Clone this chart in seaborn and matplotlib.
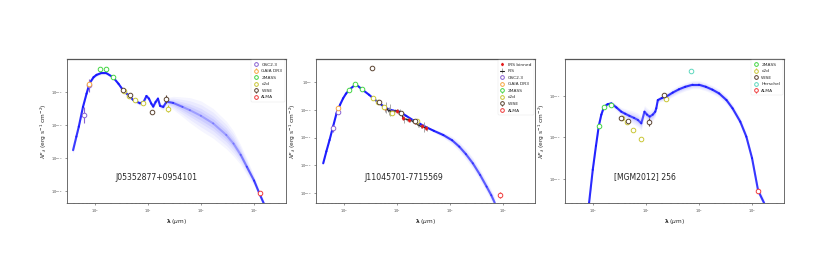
import numpy as np
import seaborn as sns
import matplotlib.pyplot as plt
from matplotlib.collections import LineCollection

# colours per survey
survey_colors = {
    'GSC2.3': '#8a63d2',
    'GAIA DR3': '#f5a742',
    '2MASS': '#45d645',
    'c2d': '#c9c636',
    'WISE': '#5b4432',
    'Herschel': '#5fd8bf',
    'ALMA': '#f03c3c',
}

# ---------------- J05352877+0954101 ----------------
p1_name = 'J05352877+0954101'
p1_model_wl = [0.39, 0.45, 0.5, 0.6, 0.7, 0.8, 0.95, 1.08, 1.3, 1.66, 2.2, 2.8, 3.4, 4.3, 5.3, 7.1, 8.3, 9.4, 10.5,
               11.6, 12.6, 14.0, 15.5, 17.0, 19.5, 22.5, 30, 45, 62, 100, 170, 300, 410, 560, 730, 1000, 1260, 1600, 1900]
p1_model_logf = [-13.76, -13.35, -13.05, -12.45, -12.05, -11.73, -11.55, -11.48, -11.43, -11.43, -11.55, -11.75, -11.94,
                 -12.1, -12.24, -12.34, -12.3, -12.12, -12.2, -12.35, -12.44, -12.3, -12.2, -12.42, -12.45, -12.29,
                 -12.33, -12.45, -12.55, -12.72, -12.95, -13.3, -13.56, -13.9, -14.26, -14.68, -15.07, -15.45, -15.75]
p1_spread = [0.12, 0.1, 0.08, 0.06, 0.05, 0.05, 0.05, 0.05, 0.05, 0.05, 0.05, 0.05, 0.06, 0.06, 0.06, 0.07, 0.08, 0.08,
             0.08, 0.08, 0.08, 0.08, 0.08, 0.09, 0.1, 0.12, 0.2, 0.3, 0.38, 0.45, 0.45, 0.42, 0.38, 0.3, 0.25, 0.15,
             0.1, 0.1, 0.1]
p1_points = {
    'GSC2.3': ([0.63, 0.78], [-12.7, -11.8], [0.25, 0.2]),
    'GAIA DR3': ([0.78], [-11.77], [0.05]),
    '2MASS': ([1.24, 1.66, 2.2], [-11.3, -11.31, -11.55], [0.03, 0.03, 0.03]),
    'c2d': ([3.6, 4.5, 5.8, 8.0, 24.0], [-11.96, -12.12, -12.25, -12.34, -12.5], [0.03, 0.03, 0.03, 0.03, 0.1]),
    'WISE': ([3.4, 4.6, 11.8, 22.0], [-11.94, -12.1, -12.6, -12.22], [0.03, 0.03, 0.05, 0.12]),
    'ALMA': ([1300.0], [-15.07], [0.05]),
}

# ---------------- J11045701-7715569 ----------------
p2_name = 'J11045701-7715569'
p2_model_wl = [0.41, 0.47, 0.54, 0.63, 0.73, 0.85, 0.97, 1.1, 1.3, 1.68, 2.3, 3.0, 3.6, 4.8, 6.4, 8.5, 11.4, 15, 20, 27,
               36, 50, 75, 110, 150, 200, 270, 370, 490, 600, 700]
p2_model_logf = [-11.93, -11.5, -11.09, -10.6, -10.13, -9.82, -9.59, -9.42, -9.26, -9.08, -9.29, -9.46, -9.59, -9.78,
                 -9.95, -10.03, -10.07, -10.22, -10.37, -10.5, -10.63, -10.76, -10.91, -11.1, -11.33, -11.6, -11.93,
                 -12.35, -12.77, -13.08, -13.36]
p2_spread = [0.03] * 21 + [0.06, 0.1, 0.14, 0.17, 0.19, 0.2, 0.2, 0.2, 0.2, 0.2]
p2_points = {
    'GSC2.3': ([0.63, 0.78], [-10.67, -10.07], [0.12, 0.08]),
    'GAIA DR3': ([0.78], [-9.93], [0.03]),
    '2MASS': ([1.26, 1.66, 2.2], [-9.29, -9.08, -9.26], [0.02, 0.02, 0.02]),
    'c2d': ([3.6, 4.5, 5.8, 8.0, 24.0], [-9.59, -9.73, -9.89, -10.1, -10.4], [0.02, 0.02, 0.02, 0.02, 0.03]),
    'WISE': ([3.4, 4.6, 12.0, 22.0], [-8.48, -9.73, -10.1, -10.4], [0.02, 0.02, 0.02, 0.03]),
    'ALMA': ([870.0], [-13.07], [0.12]),
}
p2_irs_wl = [5.3, 5.6, 6.0, 6.3, 6.7, 7.0, 7.4, 7.8, 8.3, 8.8, 9.4, 10.0, 10.7, 11.5, 12.3, 13.0, 13.8, 14.7, 15.6,
             16.6, 17.7, 18.9, 20.2, 21.6, 23.2, 24.8, 26.5, 28.4, 30.4, 32.5, 34.8, 37.0]
p2_irs_logf = [-9.86, -9.9, -9.96, -9.93, -10.0, -10.05, -10.02, -10.1, -10.08, -10.05, -10.04, -10.03, -10.06, -10.08,
               -10.12, -10.3, -10.35, -10.33, -10.36, -10.35, -10.38, -10.4, -10.42, -10.45, -10.48, -10.55, -10.56,
               -10.6, -10.6, -10.63, -10.66, -10.68]
p2_irs_err = [0.05, 0.06, 0.12, 0.2, 0.08, 0.15, 0.22, 0.1, 0.06, 0.05, 0.05, 0.05, 0.08, 0.1, 0.06, 0.08, 0.12, 0.05,
              0.05, 0.06, 0.05, 0.05, 0.06, 0.05, 0.05, 0.08, 0.05, 0.06, 0.07, 0.18, 0.06, 0.1]
p2_irsbin_wl = [6.0, 8.0, 10.0, 13.0, 17.0, 22.0, 30.0, 35.0]
p2_irsbin_logf = [-9.95, -10.08, -10.04, -10.3, -10.36, -10.44, -10.6, -10.66]

# ---------------- [MGM2012] 256 ----------------
p3_name = '[MGM2012] 256'
p3_model_wl = [0.7, 0.85, 1.0, 1.15, 1.3, 1.45, 1.63, 1.9, 2.24, 2.8, 3.45, 4.1, 4.9, 6.0, 7.1, 8.2, 9.4, 10.5, 11.8,
               13.5, 15.0, 15.7, 16.8, 20, 24, 32, 42, 55, 76, 100, 135, 180, 240, 330, 430, 600, 780, 1000, 1300,
               1700]
p3_model_logf = [-14.4, -13.59, -12.78, -12.2, -11.72, -11.45, -11.26, -11.2, -11.18, -11.28, -11.38, -11.43, -11.48,
                 -11.53, -11.58, -11.66, -11.38, -11.45, -11.5, -11.45, -11.38, -11.3, -11.1, -11.05, -11.02, -10.92,
                 -10.84, -10.78, -10.73, -10.73, -10.78, -10.85, -10.94, -11.1, -11.3, -11.62, -11.98, -12.5, -13.28,
                 -13.59]
p3_spread = [0.1, 0.08, 0.06, 0.05, 0.05, 0.05, 0.05, 0.05, 0.06, 0.08, 0.1, 0.12, 0.14, 0.16, 0.17, 0.17, 0.15,
             0.16, 0.16, 0.15, 0.12, 0.08, 0.06, 0.08, 0.09, 0.1, 0.1, 0.1, 0.1, 0.1, 0.1, 0.1, 0.1, 0.1,
             0.1, 0.1, 0.1, 0.1, 0.1, 0.1]
p3_points = {
    '2MASS': ([1.3, 1.63, 2.24], [-11.72, -11.26, -11.22], [0.03, 0.03, 0.03]),
    'c2d': ([3.6, 4.5, 5.8, 8.0, 24.0], [-11.54, -11.62, -11.82, -12.04, -11.08], [0.03, 0.03, 0.03, 0.03, 0.05]),
    'WISE': ([3.4, 4.6, 11.7, 22.0], [-11.52, -11.6, -11.62, -10.98], [0.03, 0.03, 0.1, 0.05]),
    'Herschel': ([70.0], [-10.41], [0.03]),
    'ALMA': ([1300.0], [-13.28], [0.04]),
}

panels = [
    (p1_name, p1_model_wl, p1_model_logf, p1_spread, p1_points, None, (-15.36, -11.0), [-15, -14, -13, -12], 0.41),
    (p2_name, p2_model_wl, p2_model_logf, p2_spread, p2_points, 'irs', (-13.36, -8.17), [-13, -12, -11, -10, -9], 0.40),
    (p3_name, p3_model_wl, p3_model_logf, p3_spread, p3_points, None, (-13.58, -10.11), [-13, -12, -11], 0.365),
]

sns.set_style('white')
plt.rcParams['font.family'] = ['DejaVu Sans']
plt.rcParams['mathtext.fontset'] = 'dejavusans'

fig = plt.figure(figsize=(8.3, 2.77), dpi=100)
lefts = [67 / 830, 316 / 830, 565 / 830]

for left, (name, mwl, mlog, spread, points, extra, ylim, yt, tx) in zip(lefts, panels):
    ax = fig.add_axes([left, 74 / 277, 219 / 830, 144 / 277])
    mwl = np.array(mwl)
    mf = 10 ** np.array(mlog)
    sp = np.array(spread)

    # model band: layered envelopes
    for scale, a in [(1.0, 0.06), (0.75, 0.07), (0.5, 0.09), (0.3, 0.12)]:
        ax.fill_between(mwl, mf * 10 ** (-sp * scale), mf * 10 ** (sp * scale),
                        color='#5a5aff', alpha=a, lw=0)
    # best-fit line, fading where the model spread is large
    pts = np.column_stack([mwl, mf])
    segs = np.stack([pts[:-1], pts[1:]], axis=1)
    seg_sp = (sp[:-1] + sp[1:]) / 2
    alphas = np.clip(1.05 - 2.2 * seg_sp, 0.25, 0.95)
    cols = [(0.08, 0.08, 1.0, a) for a in alphas]
    ax.add_collection(LineCollection(segs, colors=cols, linewidths=1.5, capstyle='round', zorder=3))

    if extra == 'irs':
        iw = np.array(p2_irs_wl)
        il = np.array(p2_irs_logf)
        ie = np.array(p2_irs_err)
        ax.errorbar(iw, 10 ** il, yerr=[10 ** il - 10 ** (il - ie), 10 ** (il + ie) - 10 ** il],
                    fmt='-', color='#222222', ecolor='#9a9a9a', lw=0.8, elinewidth=0.6, zorder=4, label='IRS')
        ax.plot(p2_irsbin_wl, 10 ** np.array(p2_irsbin_logf), 'd', color='#e31b1b', ms=1.6, zorder=5,
                label='IRS binned')

    for survey, (wl, lf, err) in points.items():
        lf = np.array(lf)
        err = np.array(err)
        f = 10 ** lf
        ax.errorbar(wl, f, yerr=[f - 10 ** (lf - err), 10 ** (lf + err) - f], fmt='o',
                    mfc='white', mec=survey_colors[survey], ecolor=survey_colors[survey],
                    ms=3.3, mew=0.7, elinewidth=0.8, capsize=0, zorder=6, label=survey)

    ax.set_xscale('log')
    ax.set_yscale('log')
    ax.set_xlim(0.3, 4000)
    ax.set_ylim(10 ** ylim[0], 10 ** ylim[1])
    ax.set_yticks([10.0 ** v for v in yt])
    ax.set_xticks([1, 10, 100, 1000])
    ax.tick_params(axis='both', which='major', labelsize=2.5, length=1.5, width=0.4, pad=1.5,
                   left=True, bottom=True, colors='#444444')
    ax.tick_params(axis='x', which='minor', length=1, width=0.3, bottom=True, colors='#666666')
    ax.tick_params(axis='y', which='minor', left=False)
    for s in ax.spines.values():
        s.set_color('#555555')
        s.set_linewidth(0.6)
    ax.spines['top'].set_linewidth(0.9)

    ax.set_xlabel(r'$\mathbf{\lambda}$ ($\mu$m)', fontsize=4.2, labelpad=2)
    ax.set_ylabel(r'$\lambda F_\lambda$ (erg s$^{-1}$ cm$^{-2}$)', fontsize=4.2, labelpad=2)
    ax.text(tx, 0.18, name, transform=ax.transAxes, ha='center', va='center', fontsize=5.6)

    handles, labels = ax.get_legend_handles_labels()
    if extra == 'irs':
        order = ['IRS binned', 'IRS'] + list(points.keys())
        hmap = dict(zip(labels, handles))
        handles = [hmap[k] for k in order]
        labels = order
    leg = ax.legend(handles, labels, loc='upper right', fontsize=3.2, frameon=True, borderaxespad=0.3,
                    handlelength=1.0, handletextpad=0.8, labelspacing=0.55, borderpad=0.5, markerscale=0.8)
    leg.get_frame().set_linewidth(0.3)
    leg.get_frame().set_edgecolor('#dddddd')

fig.savefig('out.png', dpi=100)
